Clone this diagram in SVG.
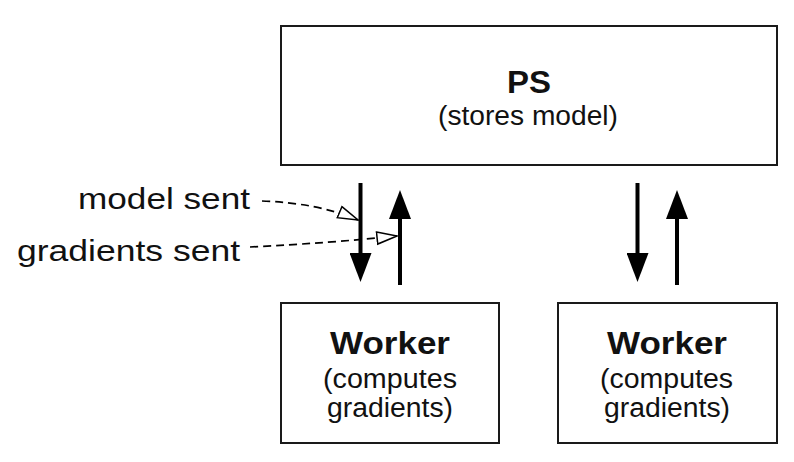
<svg xmlns="http://www.w3.org/2000/svg" width="794" height="462" viewBox="0 0 794 462">
<style>
.box{fill:#fff;stroke:#1a1a1a;stroke-width:2}
.t{font-family:"Liberation Sans",Arial,Helvetica,sans-serif;fill:#111}
.b{font-weight:bold}
.c{text-anchor:middle}
.arr{stroke:#000;stroke-width:4;fill:none}
.dash{stroke:#000;stroke-width:1.7;fill:none;stroke-dasharray:8 5}
</style>
<defs>
<marker id="solid" markerUnits="userSpaceOnUse" markerWidth="30" markerHeight="22" refX="2" refY="11" orient="auto">
<path d="M0,0 L29,11 L0,22 z" fill="#000"/>
</marker>
<marker id="open" markerUnits="userSpaceOnUse" markerWidth="24" markerHeight="16" refX="21" refY="7" orient="auto">
<path d="M1,1 L21,7 L1,13 z" fill="#fff" stroke="#000" stroke-width="1.5" stroke-linejoin="miter"/>
</marker>
</defs>
<rect width="794" height="462" fill="#fff"/>
<g id="ps">
<rect class="box" x="281" y="26" width="496" height="139"/>
<text class="t b c" x="529" y="93" font-size="32" textLength="44" lengthAdjust="spacingAndGlyphs">PS</text>
<text class="t c" x="528" y="125" font-size="27" textLength="180" lengthAdjust="spacingAndGlyphs">(stores model)</text>
</g>
<g id="worker1">
<rect class="box" x="281" y="303" width="218" height="140"/>
<text class="t b c" x="390" y="354" font-size="31" textLength="120" lengthAdjust="spacingAndGlyphs">Worker</text>
<text class="t c" x="390" y="388" font-size="27" textLength="134" lengthAdjust="spacingAndGlyphs">(computes</text>
<text class="t c" x="390" y="417" font-size="27" textLength="126" lengthAdjust="spacingAndGlyphs">gradients)</text>
</g>
<g id="worker2">
<rect class="box" x="558" y="303" width="219" height="140"/>
<text class="t b c" x="667" y="354" font-size="31" textLength="120" lengthAdjust="spacingAndGlyphs">Worker</text>
<text class="t c" x="666.5" y="388" font-size="27" textLength="133" lengthAdjust="spacingAndGlyphs">(computes</text>
<text class="t c" x="667" y="417" font-size="27" textLength="126" lengthAdjust="spacingAndGlyphs">gradients)</text>
</g>
<g id="labels">
<text class="t" x="78" y="209" font-size="30" textLength="172" lengthAdjust="spacingAndGlyphs">model sent</text>
<text class="t" x="17" y="261" font-size="30" textLength="223" lengthAdjust="spacingAndGlyphs">gradients sent</text>
</g>
<g id="connectors">
<line class="arr" x1="360.5" y1="183" x2="360.5" y2="255" marker-end="url(#solid)"/>
<line class="arr" x1="400" y1="285" x2="400" y2="217" marker-end="url(#solid)"/>
<line class="arr" x1="637.5" y1="183" x2="637.5" y2="255" marker-end="url(#solid)"/>
<line class="arr" x1="677" y1="285" x2="677" y2="217" marker-end="url(#solid)"/>
<path class="dash" d="M262,201 Q318,203 358,220" marker-end="url(#open)"/>
<path class="dash" d="M250,247 Q330,243 397,236" marker-end="url(#open)"/>
</g>
</svg>
